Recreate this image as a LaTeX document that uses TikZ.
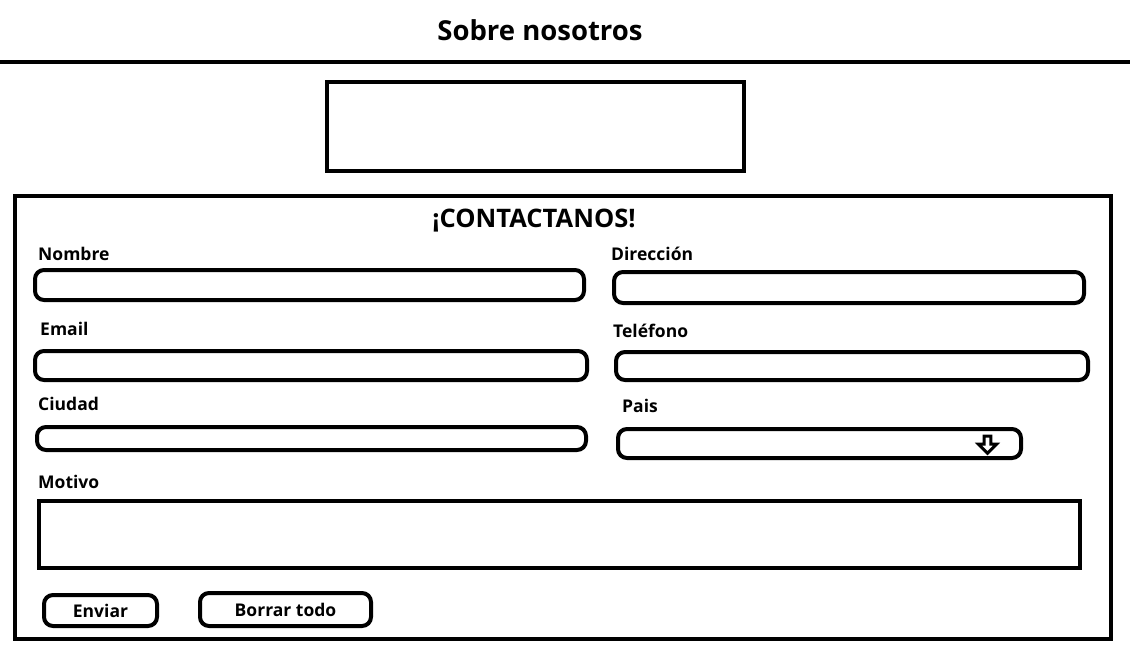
\documentclass[tikz,border=0pt]{standalone}
\usepackage{fontspec}
\setmainfont{Open Sans}
\usetikzlibrary{shapes.arrows, positioning}

\begin{document}
\begin{tikzpicture}[x=1pt, y=-1pt,
    box/.style={draw, line width=4pt, inner sep=0pt},
    field/.style={draw, line width=4pt, rounded corners=9pt, inner sep=0pt},
    lbl/.style={anchor=west, inner sep=0pt, font=\fontsize{17.5}{20}\selectfont\bfseries}]
\useasboundingbox (0,0) rectangle (1130,654);

% Header
\node[font=\fontsize{27.5}{32}\selectfont\bfseries] (title) at (540,30) {Sobre nosotros};
\draw[line width=4pt] (0,61.5) -- (1130,61.5);
\node[box, minimum width=417, minimum height=89] (banner) at (535.5,126.5) {};

% Contact form
\node[box, minimum width=1096, minimum height=443] (form) at (563,417.5) {};
\node[font=\fontsize{25.5}{30}\selectfont\bfseries] (contact) at (534,221) {¡CONTACTANOS!};

% Left column
\node[lbl] (nombreLbl) at (38,254) {Nombre};
\node[field, minimum width=549, minimum height=30] (nombre) at (309.5,285) {};
\node[lbl] (emailLbl) at (40,329) {Email};
\node[field, minimum width=552, minimum height=29] (email) at (311,365.5) {};
\node[lbl] (ciudadLbl) at (38,404) {Ciudad};
\node[field, minimum width=549, minimum height=23] (ciudad) at (311.5,438.5) {};

% Right column
\node[lbl] (direccionLbl) at (611,254) {Dirección};
\node[field, minimum width=470, minimum height=31] (direccion) at (849,287.5) {};
\node[lbl] (telefonoLbl) at (613,331) {Teléfono};
\node[field, minimum width=472, minimum height=28] (telefono) at (852,366) {};
\node[lbl] (paisLbl) at (622,406) {Pais};
\node[field, minimum width=403, minimum height=29] (pais) at (819.5,443.5) {};
\node[single arrow, draw, line width=3pt, shape border rotate=270, inner sep=0pt,
      minimum width=18pt, minimum height=17pt, single arrow head extend=2.5pt] (paisArrow) at (987.5,443) {};

% Motivo
\node[lbl] (motivoLbl) at (38,482) {Motivo};
\node[box, minimum width=1041, minimum height=67] (motivo) at (559.5,534.5) {};

% Buttons
\node[field, minimum width=113, minimum height=31, font=\fontsize{17.5}{20}\selectfont\bfseries] (enviar) at (100.5,610.5) {Enviar};
\node[field, minimum width=171, minimum height=33, font=\fontsize{17.5}{20}\selectfont\bfseries] (borrar) at (285.5,609.5) {Borrar todo};
\end{tikzpicture}
\end{document}
